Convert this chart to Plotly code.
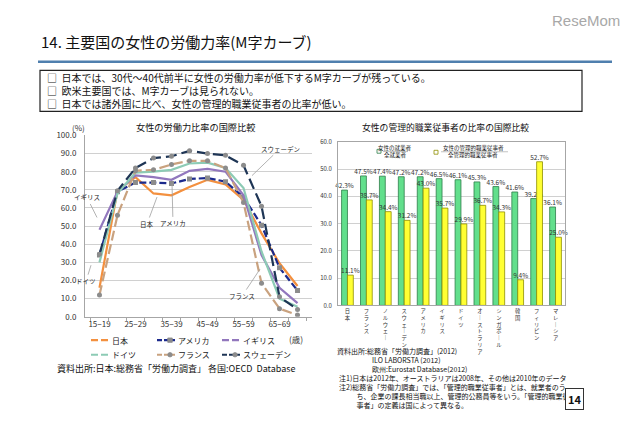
import plotly.graph_objects as go

# The page body has an 8px margin, so the figure is drawn 8px smaller on each side
# and every reference pixel position is shifted by that margin.
OFFX, OFFY = 8, 8
W, H = 640 - 2 * OFFX, 433 - 2 * OFFY
def px(x): return (x - OFFX) / W
def py(y): return 1 - (y - OFFY) / H

FONT = "Noto Sans CJK JP"

# ---------------- data: female labour force participation (%) ----------------
ages = ["15−19", "20−24", "25−29", "30−34", "35−39", "40−44",
        "45−49", "50−54", "55−59", "60−64", "65−69", "70−74"]
japan   = [16.0, 69.5, 77.0, 68.0, 67.0, 71.5, 75.5, 73.0, 64.5, 46.0, 29.5, 17.0]
usa     = [34.0, 69.0, 74.0, 74.0, 73.5, 76.0, 76.5, 74.5, 66.0, 50.5, 27.0, 14.5]
uk      = [48.0, 69.0, 78.0, 77.0, 75.5, 80.5, 81.5, 80.0, 67.0, 34.0, 16.0, 7.5]
germany = [30.0, 68.0, 79.5, 80.0, 81.0, 84.5, 85.0, 82.0, 71.0, 36.0, 10.0, 5.5]
france  = [12.0, 56.0, 80.5, 81.0, 84.0, 86.0, 86.0, 82.0, 63.0, 18.5, 4.5, 1.0]
sweden  = [34.5, 69.5, 82.0, 87.5, 88.5, 91.5, 90.0, 89.0, 83.5, 61.0, 11.0, 4.0]
line_ticks = [0, 10, 20, 30, 40, 50, 60, 70, 80, 90, 100]

# ---------------- data: share of women (%) ----------------
countries = ["日本", "フランス", "ノルウェー", "スウェーデン", "アメリカ", "イギリス",
             "ドイツ", "オーストラリア", "シンガポール", "韓国", "フィリピン", "マレーシア"]
emp_share = [42.3, 47.5, 47.4, 47.2, 47.2, 46.5, 46.1, 45.3, 43.6, 41.6, 39.2, 36.1]
mgr_share = [11.1, 38.7, 34.4, 31.2, 43.0, 35.7, 29.9, 36.7, 34.3, 9.4, 52.7, 25.0]
bar_ticks = [0, 10, 20, 30, 40, 50, 60]

def vertical(name):
    return "<br>".join("｜" if ch == "ー" else ch for ch in name)

fig = go.Figure()

# ---------------- line chart ----------------
series = [
    ("日本", japan, "#F3903F", "solid", None),
    ("アメリカ", usa, "#1C2A8C", "7px,3px", "square"),
    ("イギリス", uk, "#9277BD", "solid", None),
    ("ドイツ", germany, "#8DCBB5", "solid", None),
    ("フランス", france, "#C9A27F", "10px,4px", "circle"),
    ("スウェーデン", sweden, "#1E3555", "11px,5px", "circle"),
]
for name, vals, col, dash, sym in series:
    fig.add_trace(go.Scatter(
        x=ages, y=vals, name=name, xaxis="x", yaxis="y", showlegend=False,
        mode="lines+markers" if sym else "lines",
        line=dict(color=col, width=2.2, dash=dash),
        marker=dict(symbol=sym or "circle", size=5, color="#8C8C8C") if sym else None,
    ))

# ---------------- bar chart ----------------
GREEN, GREEN_LINE = "#62DF8C", "#2E7D4A"
YELLOW, YELLOW_LINE = "#FFFF33", "#8F8F00"
fig.add_trace(go.Bar(
    x=countries, y=emp_share, name="女性の就業者/全就業者", xaxis="x2", yaxis="y2",
    showlegend=False,
    marker=dict(color=GREEN, line=dict(color=GREEN_LINE, width=0.8)),
    text=[f"{v:.1f}%" for v in emp_share], textposition="outside",
    textfont=dict(size=6.5, color="#333333", family=FONT), cliponaxis=False,
    constraintext="none",
))
fig.add_trace(go.Bar(
    x=countries, y=mgr_share, name="女性の管理的職業従事者/全管理的職業従事者",
    xaxis="x2", yaxis="y2", showlegend=False,
    marker=dict(color=YELLOW, line=dict(color=YELLOW_LINE, width=0.8)),
    text=[f"{v:.1f}%" for v in mgr_share], textposition="outside",
    textfont=dict(size=6.5, color="#333333", family=FONT), cliponaxis=False,
    constraintext="none",
))

axis_common = dict(showline=True, linecolor="#A6A6A6", linewidth=1, zeroline=False)

fig.update_layout(
    width=W, height=H,
    margin=dict(l=0, r=0, t=0, b=0),
    paper_bgcolor="white", plot_bgcolor="white",
    font=dict(family=FONT, color="#111111", size=9),
    barmode="group", bargap=0.38, bargroupgap=0.0,
    showlegend=False,
    xaxis=dict(domain=[px(85), px(312)], anchor="y", type="category",
               tickvals=ages, ticktext=[a if i % 2 == 0 else "" for i, a in enumerate(ages)],
               tickangle=0, tickson="boundaries", ticks="outside", ticklen=3,
               tickcolor="#A6A6A6", tickfont=dict(size=8, color="#333333"),
               showgrid=False, **axis_common),
    yaxis=dict(domain=[py(319), py(132.7)], anchor="x", range=[0, 100],
               tickvals=line_ticks, tickformat=".1f", ticks="",
               tickfont=dict(size=8, color="#333333"), ticklabelstandoff=6,
               showgrid=True, gridcolor="#D0D0D0", gridwidth=1, **axis_common),
    xaxis2=dict(domain=[px(338), px(565)], anchor="y2", type="category",
                tickvals=countries, ticktext=[vertical(c) for c in countries],
                tickangle=0, ticks="", tickfont=dict(size=5.3, color="#333333"),
                showgrid=False, mirror=True, **axis_common),
    yaxis2=dict(domain=[py(307.3), py(139.3)], anchor="x2", range=[0, 60],
                tickvals=bar_ticks, tickformat=".1f", ticksuffix="%", ticks="",
                tickfont=dict(size=6, color="#333333"), ticklabelstandoff=4,
                showgrid=True, gridcolor="#D0D0D0", gridwidth=1, mirror=True, **axis_common),
)

ann = []
shapes = []
def text(x, y, s, size, xanchor="left", color="#111111", family=FONT, align="left"):
    ann.append(dict(x=px(x), y=py(y), xref="paper", yref="paper", text=s, showarrow=False,
                    xanchor=xanchor, yanchor="middle", align=align,
                    font=dict(size=size, color=color, family=family)))

def label(tipx, tipy, tx, ty, s):
    ann.append(dict(x=px(tipx), y=py(tipy), xref="paper", yref="paper", text=s,
                    showarrow=True, arrowhead=0, arrowwidth=0.8, arrowcolor="#A0A0A0",
                    ax=tx - tipx, ay=ty - tipy, font=dict(size=6.5, color="#222222", family=FONT)))

def hline(x0, x1, y, color, width, dash="solid"):
    shapes.append(dict(type="line", xref="paper", yref="paper", x0=px(x0), x1=px(x1),
                       y0=py(y), y1=py(y), line=dict(color=color, width=width, dash=dash)))

def marker(x, y, kind, size, fill, line_col=None):
    r = size / 2
    shapes.append(dict(type="rect" if kind == "square" else "circle", xref="paper", yref="paper",
                       x0=px(x - r), x1=px(x + r), y0=py(y + r), y1=py(y - r),
                       fillcolor=fill, line=dict(color=line_col or fill, width=0.8)))

# header
text(622, 15, "ReseMom", 15, xanchor="right", color="#A8A8A8", family="Liberation Sans")
text(39, 36, "14. 主要国の女性の労働力率(M字カーブ)", 15)
bullets = ["日本では、30代～40代前半に女性の労働力率が低下するM字カーブが残っている。",
           "欧米主要国では、M字カーブは見られない。",
           "日本では諸外国に比べ、女性の管理的職業従事者の比率が低い。"]
text(45, 86.5, "<br>".join("□  " + b for b in bullets), 10)

# line chart texts
text(195, 124, "女性の労働力比率の国際比較", 9.2, xanchor="center")
text(78, 124.5, "(%)", 8, xanchor="center", color="#333333")
text(296, 342, "(歳)", 8.5, xanchor="center", color="#333333")
text(55, 372, "資料出所:日本:総務省「労働力調査」 各国:OECD  Database", 9)
label(252, 174, 280, 147, "スウェーデン")
label(97, 217, 87, 197, "イギリス")
label(157, 196, 147, 223, "日本")
label(172, 182, 173, 222, "アメリカ")
label(91, 266, 86, 282, "ドイツ")
label(260, 270, 242, 297, "フランス")

# line chart legend (two rows of three)
legend_rows = [
    (343, [("日本", "#F3903F", None), ("アメリカ", "#1C2A8C", "square"), ("イギリス", "#9277BD", None)]),
    (358, [("ドイツ", "#8DCBB5", None), ("フランス", "#C9A27F", "circle"), ("スウェーデン", "#1E3555", "circle")]),
]
col_x = [91, 157, 222]
for ly, items in legend_rows:
    for cx, (name, col, sym) in zip(col_x, items):
        if sym:
            hline(cx, cx + 18, ly, col, 2.2, "5px,2px")
            marker(cx + 13, ly, sym, 4.5, "#8C8C8C")
        else:
            hline(cx, cx + 17, ly, col, 2.2, "7px,3px")
        text(cx + 19, ly, name, 8, color="#222222")

# bar chart texts
text(445, 124.5, "女性の管理的職業従事者の比率の国際比較", 8.8, xanchor="center")
marker(379, 149, "square", 4, "#FFFFFF", GREEN_LINE)
text(395, 145.3, "女性の就業者", 5.5, xanchor="center", color="#222222")
hline(383, 408, 149.3, "#888888", 0.5)
text(395, 153, "全就業者", 5.5, xanchor="center", color="#222222")
marker(436, 150, "square", 4, "#FFFFFF", YELLOW_LINE)
text(473, 145.5, "女性の管理的職業従事者", 5.5, xanchor="center", color="#222222")
hline(441, 508, 149.5, "#888888", 0.5)
text(473, 153.3, "全管理的職業従事者", 5.5, xanchor="center", color="#222222")

SP = "\u3000"  # full-width space for indentation
sources = ["資料出所:総務省「労働力調査」(2012)",
           SP * 5 + "ILO LABORSTA (2012)",
           SP * 5 + "欧州:Eurostat Database(2012)"]
text(335, 363.3, "<br>".join(sources), 7)
notes = ["注1)日本は2012年、オーストラリアは2008年、その他は2010年のデータ",
         "注2)総務省「労働力調査」では、「管理的職業従事者」とは、就業者のう",
         SP * 2 + "\u2002ち、企業の課長相当職以上、管理的公務員等をいう。「管理的職業従",
         SP * 2 + "\u2002事者」の定義は国によって異なる。"]
text(337, 396.2, "<br>".join(notes), 7)

ann.append(dict(x=px(583.5), y=py(415), xref="paper", yref="paper", text="<b>14</b>",
                showarrow=False, font=dict(size=11, color="#111111", family=FONT),
                bordercolor="#333333", borderwidth=1, borderpad=2, bgcolor="white"))

# title rule and summary box
hline(38, 612, 57, "#4F7FAE", 2.5)
shapes.append(dict(type="rect", xref="paper", yref="paper", x0=px(40), x1=px(582),
                   y0=py(108), y1=py(66), line=dict(color="#222222", width=1.2)))

fig.update_layout(annotations=ann, shapes=shapes)

fig.write_html("out.html")
